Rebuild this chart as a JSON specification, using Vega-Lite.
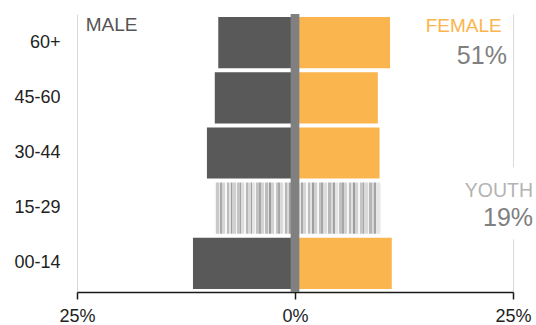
{
  "$schema": "https://vega.github.io/schema/vega-lite/v6.json",
  "width": 436,
  "height": 278,
  "autosize": {"type": "none"},
  "padding": {"left": 77, "top": 14, "right": 23, "bottom": 33},
  "config": {
    "view": {"stroke": null},
    "font": "Liberation Sans, Arial, sans-serif",
    "text": {"font": "Liberation Sans, Arial, sans-serif", "fontWeight": "normal"}
  },
  "data": {
    "values": [
      {"age": "60+", "sex": "Male", "pct": -8.8},
      {"age": "45-60", "sex": "Male", "pct": -9.2},
      {"age": "30-44", "sex": "Male", "pct": -10.1},
      {"age": "15-29", "sex": "Male", "pct": -9.2},
      {"age": "00-14", "sex": "Male", "pct": -11.7},
      {"age": "60+", "sex": "Female", "pct": 10.9},
      {"age": "45-60", "sex": "Female", "pct": 9.5},
      {"age": "30-44", "sex": "Female", "pct": 9.7},
      {"age": "15-29", "sex": "Female", "pct": 9.8},
      {"age": "00-14", "sex": "Female", "pct": 11.1}
    ]
  },
  "layer": [
    {
      "transform": [{"filter": "datum.age !== '15-29'"}],
      "mark": {"type": "bar"},
      "encoding": {
        "y": {
          "field": "age",
          "type": "nominal",
          "scale": {"domain": ["60+", "45-60", "30-44", "15-29", "00-14"], "paddingInner": 0.072, "paddingOuter": 0.054},
          "axis": {
            "title": null,
            "domain": false,
            "ticks": false,
            "tickSize": 0,
            "labelPadding": 17,
            "labelFontSize": 18,
            "labelColor": "#222222",
            "labelFont": "Liberation Sans, Arial, sans-serif"
          }
        },
        "x": {
          "field": "pct",
          "type": "quantitative",
          "scale": {"domain": [-25, 25], "nice": false, "zero": false},
          "axis": {
            "title": null,
            "values": [-25, 0, 25],
            "labelExpr": "abs(datum.value) + '%'",
            "labelFontSize": 18,
            "labelColor": "#222222",
            "labelFont": "Liberation Sans, Arial, sans-serif",
            "labelPadding": 8,
            "labelFlush": false,
            "domainColor": "#1a1a1a",
            "domainWidth": 1.5,
            "tickColor": "#1a1a1a",
            "tickWidth": 1.5,
            "tickSize": 7,
            "grid": true,
            "gridColor": "#d9d9d9",
            "gridWidth": 1
          }
        },
        "color": {
          "field": "sex",
          "type": "nominal",
          "scale": {"domain": ["Male", "Female"], "range": ["#595959", "#FBB54E"]},
          "legend": null
        }
      }
    },
    {
      "transform": [{"filter": "datum.age === '15-29'"}],
      "mark": {
        "type": "bar",
        "fill": {
          "gradient": "linear",
          "x1": 0, "x2": 1, "y1": 0, "y2": 0,
          "stops": [
            {"offset": 0.00, "color": "#f4f4f4"}, {"offset": 0.02, "color": "#f4f4f4"},
            {"offset": 0.02, "color": "#c9c9c9"}, {"offset": 0.05, "color": "#c9c9c9"},
            {"offset": 0.05, "color": "#e8e8e8"}, {"offset": 0.07, "color": "#e8e8e8"},
            {"offset": 0.07, "color": "#a9a9a9"}, {"offset": 0.09, "color": "#a9a9a9"},
            {"offset": 0.09, "color": "#d6d6d6"}, {"offset": 0.13, "color": "#d6d6d6"},
            {"offset": 0.13, "color": "#f7f7f7"}, {"offset": 0.15, "color": "#f7f7f7"},
            {"offset": 0.15, "color": "#bdbdbd"}, {"offset": 0.18, "color": "#bdbdbd"},
            {"offset": 0.18, "color": "#e2e2e2"}, {"offset": 0.20, "color": "#e2e2e2"},
            {"offset": 0.20, "color": "#9f9f9f"}, {"offset": 0.22, "color": "#9f9f9f"},
            {"offset": 0.22, "color": "#d0d0d0"}, {"offset": 0.26, "color": "#d0d0d0"},
            {"offset": 0.26, "color": "#f5f5f5"}, {"offset": 0.28, "color": "#f5f5f5"},
            {"offset": 0.28, "color": "#c4c4c4"}, {"offset": 0.31, "color": "#c4c4c4"},
            {"offset": 0.31, "color": "#a5a5a5"}, {"offset": 0.33, "color": "#a5a5a5"},
            {"offset": 0.33, "color": "#dcdcdc"}, {"offset": 0.37, "color": "#dcdcdc"},
            {"offset": 0.37, "color": "#f6f6f6"}, {"offset": 0.39, "color": "#f6f6f6"},
            {"offset": 0.39, "color": "#b8b8b8"}, {"offset": 0.42, "color": "#b8b8b8"},
            {"offset": 0.42, "color": "#d8d8d8"}, {"offset": 0.45, "color": "#d8d8d8"},
            {"offset": 0.45, "color": "#a2a2a2"}, {"offset": 0.47, "color": "#a2a2a2"},
            {"offset": 0.47, "color": "#e4e4e4"}, {"offset": 0.50, "color": "#e4e4e4"},
            {"offset": 0.50, "color": "#f7f7f7"}, {"offset": 0.52, "color": "#f7f7f7"},
            {"offset": 0.52, "color": "#c2c2c2"}, {"offset": 0.55, "color": "#c2c2c2"},
            {"offset": 0.55, "color": "#a6a6a6"}, {"offset": 0.57, "color": "#a6a6a6"},
            {"offset": 0.57, "color": "#d4d4d4"}, {"offset": 0.61, "color": "#d4d4d4"},
            {"offset": 0.61, "color": "#f5f5f5"}, {"offset": 0.63, "color": "#f5f5f5"},
            {"offset": 0.63, "color": "#bcbcbc"}, {"offset": 0.66, "color": "#bcbcbc"},
            {"offset": 0.66, "color": "#e0e0e0"}, {"offset": 0.68, "color": "#e0e0e0"},
            {"offset": 0.68, "color": "#9d9d9d"}, {"offset": 0.70, "color": "#9d9d9d"},
            {"offset": 0.70, "color": "#d2d2d2"}, {"offset": 0.74, "color": "#d2d2d2"},
            {"offset": 0.74, "color": "#f6f6f6"}, {"offset": 0.76, "color": "#f6f6f6"},
            {"offset": 0.76, "color": "#c6c6c6"}, {"offset": 0.79, "color": "#c6c6c6"},
            {"offset": 0.79, "color": "#a8a8a8"}, {"offset": 0.81, "color": "#a8a8a8"},
            {"offset": 0.81, "color": "#dadada"}, {"offset": 0.85, "color": "#dadada"},
            {"offset": 0.85, "color": "#f4f4f4"}, {"offset": 0.87, "color": "#f4f4f4"},
            {"offset": 0.87, "color": "#b6b6b6"}, {"offset": 0.90, "color": "#b6b6b6"},
            {"offset": 0.90, "color": "#d7d7d7"}, {"offset": 0.93, "color": "#d7d7d7"},
            {"offset": 0.93, "color": "#a3a3a3"}, {"offset": 0.95, "color": "#a3a3a3"},
            {"offset": 0.95, "color": "#e6e6e6"}, {"offset": 1.00, "color": "#e6e6e6"}
          ]
        }
      },
      "encoding": {
        "y": {"field": "age", "type": "nominal"},
        "x": {"field": "pct", "type": "quantitative"}
      }
    },
    {
      "data": {"values": [{}]},
      "mark": {"type": "rect", "color": "#808080"},
      "encoding": {
        "x": {"datum": -0.5},
        "x2": {"datum": 0.5}
      }
    },
    {
      "data": {"values": [{}]},
      "mark": {"type": "rect", "color": "#ffffff", "height": 72, "yOffset": -5},
      "encoding": {
        "x": {"datum": 24},
        "x2": {"datum": 26.6},
        "y": {"datum": "15-29"}
      }
    },
    {
      "data": {"values": [{}]},
      "mark": {"type": "text", "align": "left", "baseline": "alphabetic", "dy": -12, "fontSize": 19, "color": "#555555"},
      "encoding": {"x": {"datum": -24}, "y": {"datum": "60+"}, "text": {"value": "MALE"}}
    },
    {
      "data": {"values": [{}]},
      "mark": {"type": "text", "align": "right", "baseline": "alphabetic", "dy": -11, "fontSize": 19, "color": "#FBB54E"},
      "encoding": {"x": {"datum": 23.7}, "y": {"datum": "60+"}, "text": {"value": "FEMALE"}}
    },
    {
      "data": {"values": [{}]},
      "mark": {"type": "text", "align": "right", "baseline": "alphabetic", "dy": 21, "fontSize": 25, "color": "#808080"},
      "encoding": {"x": {"datum": 24.3}, "y": {"datum": "60+"}, "text": {"value": "51%"}}
    },
    {
      "data": {"values": [{}]},
      "mark": {"type": "text", "align": "right", "baseline": "alphabetic", "dy": -11, "fontSize": 19.5, "color": "#b3b3b3"},
      "encoding": {"x": {"datum": 27.3}, "y": {"datum": "15-29"}, "text": {"value": "YOUTH"}}
    },
    {
      "data": {"values": [{}]},
      "mark": {"type": "text", "align": "right", "baseline": "alphabetic", "dy": 18, "fontSize": 25, "color": "#808080"},
      "encoding": {"x": {"datum": 27.3}, "y": {"datum": "15-29"}, "text": {"value": "19%"}}
    }
  ]
}
